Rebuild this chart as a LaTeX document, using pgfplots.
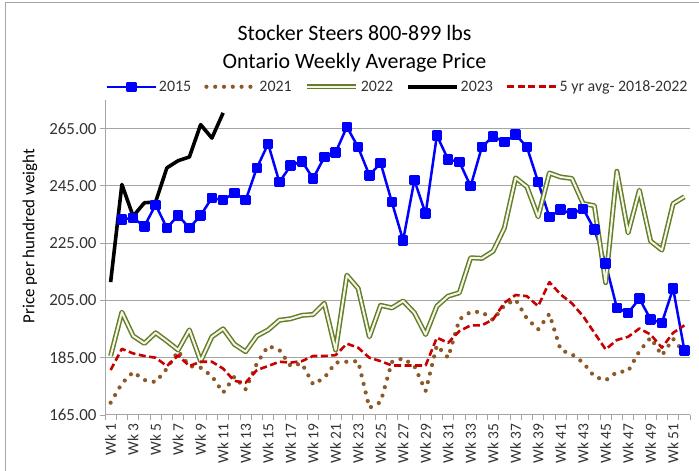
\documentclass[border=0pt]{standalone}
\usepackage{pgfplots}
\pgfplotsset{compat=1.18}
\usepackage{pgfplotstable}
\usepackage{fontspec}
\setmainfont{Carlito}
\definecolor{c2015}{RGB}{0,0,255}
\definecolor{c2021}{RGB}{140,90,40}
\definecolor{c2022}{RGB}{100,125,40}
\definecolor{c2022in}{RGB}{244,246,232}
\definecolor{cavg}{RGB}{200,0,0}
\definecolor{gridc}{RGB}{165,165,165}
\definecolor{txt}{RGB}{50,50,50}

\pgfplotstableread{
wk val
2 233.3
3 233.8
4 230.9
5 238.4
6 230.3
7 234.7
8 230.3
9 234.7
10 240.8
11 240.0
12 242.6
13 240.0
14 251.3
15 259.7
16 246.3
17 252.1
18 253.6
19 247.6
20 255.1
21 256.7
22 265.6
23 258.5
24 248.7
25 253.0
26 239.3
27 226.0
28 247.0
29 235.3
30 262.6
31 254.2
32 253.4
33 244.9
34 258.6
35 262.3
36 260.3
37 262.9
38 258.6
39 246.4
40 234.1
41 236.7
42 235.3
43 237.0
44 229.8
45 217.9
46 202.4
47 200.7
48 205.6
49 198.4
50 197.2
51 209.2
52 187.6
}\tA

\pgfplotstableread{
wk val
1 169.3
2 176.0
3 180.0
4 177.2
5 176.5
6 181.2
7 187.3
8 182.1
9 181.5
10 178.6
11 172.8
12 178.4
13 174.0
14 183.0
15 189.1
16 187.7
17 182.1
18 183.0
19 175.7
20 178.0
21 183.3
22 183.6
23 183.8
24 167.5
25 169.5
26 183.5
27 184.8
28 182.1
29 173.4
30 189.3
31 185.0
32 198.4
33 201.0
34 201.0
35 198.1
36 203.3
37 205.3
38 198.7
39 194.9
40 200.3
41 187.7
42 186.2
43 183.3
44 178.4
45 177.1
46 180.0
47 180.3
48 187.3
49 192.0
50 185.8
51 191.6
52 186.7
}\tB

\pgfplotstableread{
wk val
1 185.6
2 200.9
3 192.6
4 190.0
5 193.7
6 190.8
7 187.7
8 194.7
9 183.8
10 192.3
11 195.1
12 189.7
13 187.1
14 192.6
15 194.7
16 198.1
17 198.6
18 199.8
19 200.1
20 204.0
21 187.7
22 213.8
23 209.2
24 192.3
25 203.3
26 202.4
27 204.8
28 200.7
29 193.1
30 203.0
31 206.5
32 207.7
33 219.9
34 219.7
35 222.2
36 230.3
37 247.8
38 244.7
39 234.2
40 249.5
41 248.1
42 247.6
43 238.8
44 238.1
45 211.2
46 250.1
47 228.6
48 243.5
49 225.7
50 222.6
51 238.8
52 241.2
}\tC

\pgfplotstableread{
wk val
1 211.4
2 245.5
3 234.4
4 239.1
5 239.4
6 251.3
7 253.8
8 255.1
9 266.4
10 261.7
11 270.5
}\tD

\pgfplotstableread{
wk val
1 180.7
2 188.1
3 186.5
4 185.6
5 185.0
6 182.1
7 185.8
8 182.1
9 183.6
10 183.6
11 181.2
12 176.9
13 176.3
14 180.7
15 182.1
16 183.6
17 183.3
18 183.8
19 185.6
20 185.6
21 185.9
22 189.9
23 188.5
24 185.0
25 183.8
26 182.3
27 182.3
28 182.3
29 182.3
30 192.0
31 190.2
32 194.3
33 196.3
34 196.3
35 198.4
36 204.2
37 206.9
38 206.5
39 203.0
40 211.4
41 207.1
42 204.0
43 199.5
44 193.7
45 187.9
46 191.2
47 192.3
48 195.2
49 193.1
50 188.5
51 193.7
52 196.3
}\tE

\begin{document}
\begin{tikzpicture}[x=1bp,y=1bp]
\useasboundingbox (0,0) rectangle (699,471);
\draw[gray!70,line width=1bp] (5,-20) -- (5,468) -- (720,468);
\node[font=\fontsize{22}{26}\selectfont, anchor=base, text=black] at (354.5,430.3) {Stocker Steers 800-899 lbs};
\node[font=\fontsize{22}{26}\selectfont, anchor=base, text=black] at (354.5,402.7) {Ontario Weekly Average Price};
\node[rotate=90, font=\fontsize{17}{20}\selectfont, text=black] at (30,235) {Price per hundred weight};
\begin{axis}[
  at={(105bp,56bp)}, anchor=south west,
  scale only axis, width=585bp, height=315bp,
  xmin=0.5, xmax=52.5, ymin=165, ymax=275,
  axis lines=left,
  axis line style={-, draw=gridc, line width=1bp},
  ytick={165,185,205,225,245,265},
  xtick={0.5,1.5,...,52.5},
  x tick label as interval,
  xticklabels={Wk 1,{},Wk 3,{},Wk 5,{},Wk 7,{},Wk 9,{},Wk 11,{},Wk 13,{},Wk 15,{},Wk 17,{},Wk 19,{},Wk 21,{},Wk 23,{},Wk 25,{},Wk 27,{},Wk 29,{},Wk 31,{},Wk 33,{},Wk 35,{},Wk 37,{},Wk 39,{},Wk 41,{},Wk 43,{},Wk 45,{},Wk 47,{},Wk 49,{},Wk 51,{}},
  xticklabel style={rotate=90, anchor=east, font=\fontsize{15.5}{18}\selectfont, text=txt},
  yticklabel style={font=\fontsize{17}{20}\selectfont, text=txt,
    /pgf/number format/.cd, fixed, fixed zerofill, precision=2, assume math mode=true},
  ymajorgrids, grid style={gridc, line width=1bp},
  tick align=outside, major tick length=5bp,
  tick style={gridc, line width=0.8bp},
  legend columns=-1,
  legend style={at={(0.5,1.042)}, anchor=center, draw=none, fill=none,
    font=\fontsize{16}{19}\selectfont, text=txt,
    /tikz/every even column/.append style={column sep=11bp}},
  legend image code/.code={\draw[mark repeat=2,mark phase=2,#1] plot coordinates {(0bp,0bp) (24.5bp,0bp) (49bp,0bp)};},
  line join=round,
]
\addplot[c2015, line width=2.5bp, mark=square*, mark size=4bp, mark options={solid}] table[x=wk,y=val] {\tA};
\addlegendentry{2015}
\addplot[c2021, line width=4.2bp, line cap=round, dash pattern=on 0bp off 8.8bp] table[x=wk,y=val] {\tB};
\addlegendentry{2021}
\addplot[draw=c2022, line width=1.5bp, double=c2022in, double distance=2bp] table[x=wk,y=val] {\tC};
\addlegendentry{2022}
\addplot[black, line width=3.6bp] table[x=wk,y=val] {\tD};
\addlegendentry{2023}
\addplot[cavg, line width=2.6bp, dash pattern=on 7bp off 3.5bp] table[x=wk,y=val] {\tE};
\addlegendentry{5 yr avg- 2018-2022}
\end{axis}
\end{tikzpicture}
\end{document}
